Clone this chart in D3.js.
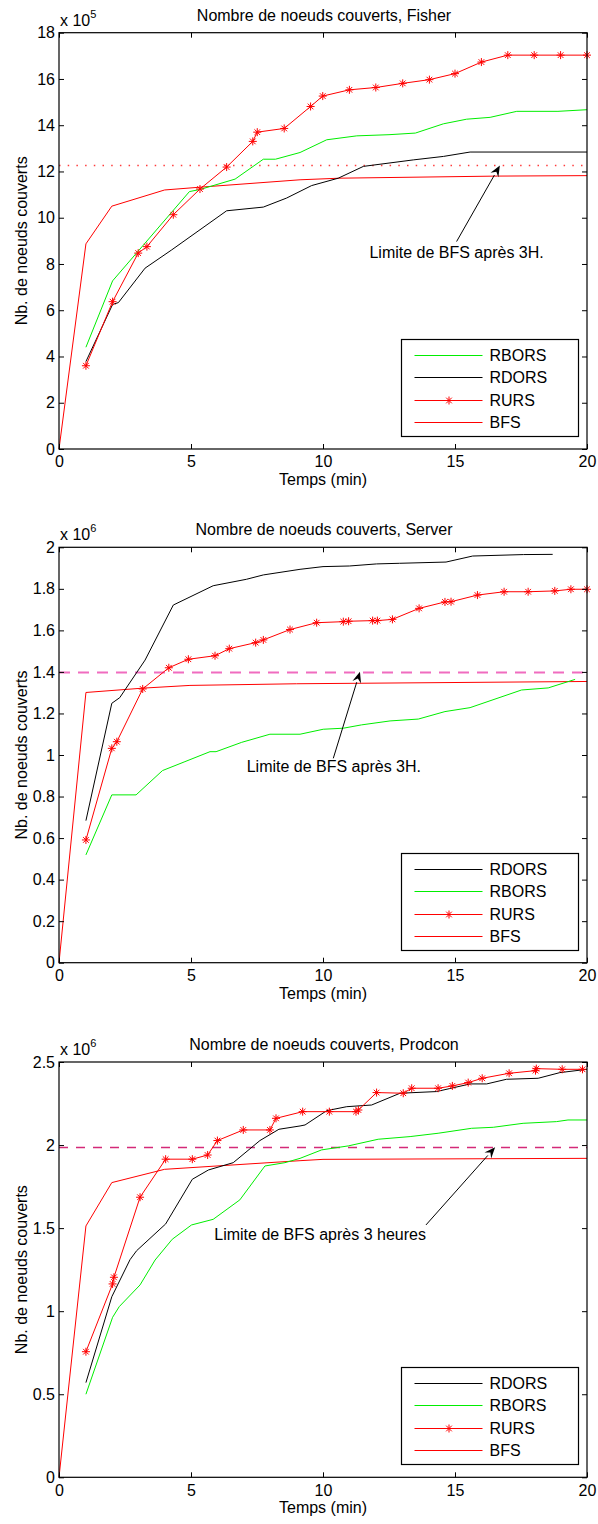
<!DOCTYPE html>
<html><head><meta charset="utf-8">
<script src="https://cdn.jsdelivr.net/npm/d3@7"></script>
<style>
body{margin:0;background:#fff}
svg{display:block}
text{font-family:"Liberation Sans",Arial,Helvetica,sans-serif;fill:#000}
</style>
</head><body>
<svg id="chart" width="598" height="1524"></svg>
<script>
// ---------- shared ----------
const xTicks = [0, 5, 10, 15, 20];
const xTickLabels = ["0", "5", "10", "15", "20"];
const xLabel = "Temps (min)";
const yLabel = "Nb. de noeuds couverts";

// ---------- Panel 1 : Fisher (x 10^5) ----------
const fisherTitle = "Nombre de noeuds couverts, Fisher";
const fisherExp = "5";
const fisherYTicks = [0, 2, 4, 6, 8, 10, 12, 14, 16, 18];
const fisherYTickLabels = ["0","2","4","6","8","10","12","14","16","18"];
const fisherLegend = ["RBORS", "RDORS", "RURS", "BFS"];
const fisherLimit = 12.26;
const fisherBFS = [[0,0],[1.02,8.87],[2,10.5],[4,11.2],[5.34,11.32],[9.13,11.64],[10.64,11.71],[16.6,11.8],[20,11.82]];
const fisherRURS = [[1.02,3.6],[2.03,6.37],[3.0,8.47],[3.33,8.75],[4.33,10.13],[5.34,11.24],[6.35,12.19],[7.34,13.3],[7.51,13.7],[8.53,13.86],[9.53,14.81],[9.99,15.26],[11.0,15.53],[12.0,15.63],[13.02,15.81],[14.03,15.97],[15.0,16.23],[16.0,16.73],[17.0,17.03],[18.0,17.03],[19.0,17.03],[20.0,17.03]];
const fisherRBORS = [[1.02,4.4],[2.03,7.27],[4.94,11.13],[5.34,11.22],[6.67,11.67],[7.74,12.53],[8.2,12.53],[9.13,12.82],[10.14,13.37],[11.28,13.54],[12.5,13.59],[13.5,13.66],[14.56,14.06],[15.44,14.26],[16.33,14.34],[17.34,14.6],[18.9,14.6],[20,14.67]];
const fisherRDORS = [[1.02,3.78],[2.03,6.25],[2.25,6.33],[3.26,7.82],[4.27,8.61],[6.35,10.3],[7.74,10.46],[8.62,10.85],[9.57,11.39],[10.58,11.71],[11.53,12.22],[13.42,12.5],[14.56,12.65],[15.57,12.84],[20,12.84]];
const fisherNote = "Limite de BFS après 3H.";
const fisherArrow = [[15.06,8.97],[16.7,12.26]];
const fisherNotePos = [15.06, 8.26];

// ---------- Panel 2 : Server (x 10^6) ----------
const serverTitle = "Nombre de noeuds couverts, Server";
const serverExp = "6";
const serverYTicks = [0,0.2,0.4,0.6,0.8,1,1.2,1.4,1.6,1.8,2];
const serverYTickLabels = ["0","0.2","0.4","0.6","0.8","1","1.2","1.4","1.6","1.8","2"];
const serverLegend = ["RDORS", "RBORS", "RURS", "BFS"];
const serverLimit = 1.401;
const serverBFS = [[0,0],[1.02,1.301],[3.19,1.322],[4.96,1.335],[9,1.343],[20,1.354]];
const serverRDORS = [[1.02,0.684],[2.0,1.249],[2.3,1.276],[3.26,1.457],[4.33,1.722],[5.84,1.815],[7.1,1.846],[7.74,1.867],[9.13,1.894],[10.0,1.907],[11.0,1.91],[12.03,1.92],[12.9,1.923],[14.66,1.929],[15.67,1.958],[17.6,1.965],[18.7,1.966]];
const serverRBORS = [[1.02,0.519],[2.0,0.808],[2.92,0.808],[3.92,0.925],[4.77,0.968],[5.72,1.016],[5.95,1.016],[6.92,1.061],[7.99,1.1],[9.13,1.1],[10.01,1.124],[10.77,1.129],[11.46,1.145],[12.54,1.164],[13.61,1.173],[14.62,1.209],[15.57,1.228],[17.52,1.313],[18.53,1.323],[19.55,1.364]];
const serverRURS = [[1.02,0.591],[2.0,1.032],[2.19,1.064],[3.17,1.318],[4.16,1.42],[4.9,1.461],[5.91,1.478],[6.45,1.512],[7.45,1.541],[7.74,1.554],[8.75,1.604],[9.76,1.637],[10.77,1.642],[10.97,1.644],[11.88,1.647],[12.06,1.647],[12.63,1.653],[13.64,1.706],[14.62,1.737],[14.85,1.738],[15.85,1.77],[16.86,1.786],[17.77,1.786],[18.78,1.79],[19.39,1.798],[20,1.798]];
const serverNote = "Limite de BFS après 3H.";
const serverArrow = [[10.39,0.984],[11.4,1.401]];
const serverNotePos = [10.41, 0.918];

// ---------- Panel 3 : Prodcon (x 10^6) ----------
const prodconTitle = "Nombre de noeuds couverts, Prodcon";
const prodconExp = "6";
const prodconYTicks = [0,0.5,1,1.5,2,2.5];
const prodconYTickLabels = ["0","0.5","1","1.5","2","2.5"];
const prodconLegend = ["RDORS", "RBORS", "RURS", "BFS"];
const prodconLimit = 1.987;
const prodconBFS = [[0,0],[1.02,1.513],[2.0,1.774],[4.0,1.854],[9.13,1.906],[10,1.914],[20,1.92]];
const prodconRURS = [[1.02,0.756],[2.03,1.164],[2.08,1.204],[3.07,1.686],[4.04,1.915],[5.05,1.915],[5.63,1.94],[6.0,2.027],[6.98,2.091],[7.99,2.091],[8.22,2.161],[9.23,2.201],[10.24,2.201],[11.25,2.201],[11.34,2.211],[12.03,2.316],[13.04,2.312],[13.36,2.342],[14.36,2.342],[14.9,2.356],[15.5,2.376],[16.03,2.402],[17.05,2.432],[18.05,2.448],[18.08,2.46],[19.06,2.456],[19.83,2.456]];
const prodconRDORS = [[1.02,0.57],[2.0,1.087],[2.69,1.31],[2.94,1.364],[4.04,1.525],[5.05,1.794],[5.66,1.85],[6.6,1.894],[7.61,2.027],[8.33,2.095],[9.13,2.115],[9.32,2.121],[10.14,2.207],[10.9,2.231],[11.84,2.241],[12.92,2.312],[14.3,2.322],[15.57,2.368],[16.2,2.368],[16.95,2.396],[18.15,2.402],[18.97,2.436],[20,2.456]];
const prodconRBORS = [[1.02,0.5],[2.03,0.963],[2.28,1.027],[3.07,1.158],[3.64,1.308],[4.29,1.433],[5.02,1.519],[5.84,1.553],[6.85,1.67],[7.8,1.874],[8.56,1.894],[9.13,1.92],[9.95,1.971],[10.96,1.995],[12.09,2.035],[13.3,2.051],[14.36,2.071],[15.63,2.101],[16.45,2.107],[17.58,2.131],[18.84,2.141],[19.28,2.151],[20,2.151]];
const prodconNote = "Limite de BFS après 3 heures";
const prodconArrow = [[13.9,1.519],[16.52,1.987]];
const prodconNotePos = [9.89, 1.43];

// ---------- drawing ----------
const svg = d3.select("#chart");
const COLORS = {RBORS:"#00ee00", RDORS:"#000000", RURS:"#ff0000", BFS:"#ff0000"};

function starPath(r){
  const a = r*Math.SQRT1_2;
  return `M${-r},0L${r},0M0,${-r}L0,${r}M${-a},${-a}L${a},${a}M${-a},${a}L${a},${-a}`;
}

function drawPanel(cfg){
  const g = svg.append("g");
  const x = d3.scaleLinear().domain([0,20]).range([59,587]);
  const y = d3.scaleLinear().domain([0,cfg.ymax]).range([cfg.bottom,cfg.top]);
  const X0 = x(0), X1 = x(20), Y0 = y(0), Y1 = y(cfg.ymax);

  // title
  g.append("text").attr("x",(X0+X1)/2+1).attr("y",Y1-12).attr("text-anchor","middle")
    .attr("font-size",16).text(cfg.title);
  // exponent
  const ex = g.append("text").attr("x",60).attr("y",Y1-7).attr("font-size",16);
  ex.append("tspan").text("x 10");
  ex.append("tspan").attr("font-size",11).attr("dy",-8).text(cfg.exp);

  const lineGen = d3.line().x(d=>x(d[0])).y(d=>y(d[1]));

  // limit line
  const ly0 = Math.round(y(cfg.limit)) + 0.5;
  g.append("line").attr("x1",X0).attr("x2",X1).attr("y1",ly0).attr("y2",ly0)
    .attr("stroke",cfg.limitColor).attr("stroke-width",cfg.limitWidth)
    .attr("stroke-dasharray",cfg.limitDash);

  // series
  cfg.series.forEach(s=>{
    g.append("path").datum(s.data).attr("d",lineGen).attr("fill","none")
      .attr("stroke",COLORS[s.name]).attr("stroke-width",1).attr("stroke-linejoin","round");
    if(s.name==="RURS"){
      g.selectAll(null).data(s.data).enter().append("path")
        .attr("transform",d=>`translate(${x(d[0])},${y(d[1])})`)
        .attr("d",starPath(4)).attr("stroke","#ff0000").attr("stroke-width",1).attr("fill","none");
    }
  });

  // axes (inner ticks, box)
  const ax = g.append("g").attr("class","axes");
  ax.append("g").attr("transform",`translate(0,${Y0})`)
    .call(d3.axisBottom(x).tickValues(xTicks).tickFormat((d,i)=>xTickLabels[i]).tickSize(-5).tickSizeOuter(0).tickPadding(7));
  ax.append("g").attr("transform",`translate(0,${Y1})`)
    .call(d3.axisTop(x).tickValues(xTicks).tickFormat("").tickSize(-5).tickSizeOuter(0));
  ax.append("g").attr("transform",`translate(${X0},0)`)
    .call(d3.axisLeft(y).tickValues(cfg.yTicks).tickFormat((d,i)=>cfg.yTickLabels[i]).tickSize(-5).tickSizeOuter(0).tickPadding(4));
  ax.append("g").attr("transform",`translate(${X1},0)`)
    .call(d3.axisRight(y).tickValues(cfg.yTicks).tickFormat("").tickSize(-5).tickSizeOuter(0));
  ax.selectAll("text").attr("font-size",16).attr("font-family",null).style("fill","#000");
  ax.selectAll("path.domain").remove();
  ax.selectAll(".tick line").attr("stroke","#000");
  g.append("rect").attr("x",X0).attr("y",Y1).attr("width",X1-X0).attr("height",Y0-Y1)
    .attr("fill","none").attr("stroke","#000").attr("stroke-width",1.2);

  // axis labels
  g.append("text").attr("x",(X0+X1)/2).attr("y",Y0+36).attr("text-anchor","middle")
    .attr("font-size",16).text(xLabel);
  g.append("text").attr("transform",`translate(27,${(Y0+Y1)/2}) rotate(-90)`)
    .attr("text-anchor","middle").attr("font-size",16).text(yLabel);

  // annotation arrow
  const [t0,t1] = cfg.arrow;
  const ax0=x(t0[0]), ay0=y(t0[1]), ax1=x(t1[0]), ay1=y(t1[1]);
  const ang = Math.atan2(ay1-ay0, ax1-ax0);
  const L=11, W=4.5;
  const bx = ax1 - L*Math.cos(ang), by = ay1 - L*Math.sin(ang);
  g.append("line").attr("x1",ax0).attr("y1",ay0).attr("x2",bx).attr("y2",by)
    .attr("stroke","#000").attr("stroke-width",1);
  g.append("path").attr("d",`M${ax1},${ay1}L${bx+W*Math.sin(ang)},${by-W*Math.cos(ang)}L${bx+0.35*L*Math.cos(ang)},${by+0.35*L*Math.sin(ang)}L${bx-W*Math.sin(ang)},${by+W*Math.cos(ang)}Z`)
    .attr("fill","#000");
  g.append("text").attr("x",x(cfg.notePos[0])).attr("y",y(cfg.notePos[1])).attr("text-anchor","middle")
    .attr("font-size",16).text(cfg.note);

  // legend
  const lw=177, lh=97;
  const lx = Math.round(X1-9-lw)+0.5, ly = Math.round(Y0-13-lh)+0.5;
  const lg = g.append("g");
  lg.append("rect").attr("x",lx).attr("y",ly).attr("width",lw).attr("height",lh)
    .attr("fill","#fff").attr("stroke","#000").attr("stroke-width",1.2);
  cfg.legend.forEach((name,i)=>{
    const yy = Math.round(ly + 15 + i*22.6) + 0.5;
    lg.append("line").attr("x1",lx+13).attr("x2",lx+81).attr("y1",yy).attr("y2",yy)
      .attr("stroke",COLORS[name]).attr("stroke-width",1);
    if(name==="RURS"){
      lg.append("path").attr("transform",`translate(${lx+47.5},${yy})`).attr("d",starPath(4))
        .attr("stroke","#ff0000").attr("fill","none");
    }
    lg.append("text").attr("x",lx+88).attr("y",yy).attr("dy","0.36em").attr("font-size",16).text(name);
  });
}

drawPanel({
  title:fisherTitle, exp:fisherExp, ymax:18, top:32.7, bottom:449,
  yTicks:fisherYTicks, yTickLabels:fisherYTickLabels,
  limit:fisherLimit, limitColor:"#ff3c3c", limitWidth:1.5, limitDash:"1.5,7.2",
  series:[{name:"BFS",data:fisherBFS},{name:"RDORS",data:fisherRDORS},{name:"RBORS",data:fisherRBORS},{name:"RURS",data:fisherRURS}],
  arrow:fisherArrow, note:fisherNote, notePos:fisherNotePos, legend:fisherLegend
});
drawPanel({
  title:serverTitle, exp:serverExp, ymax:2, top:547.3, bottom:962.7,
  yTicks:serverYTicks, yTickLabels:serverYTickLabels,
  limit:serverLimit, limitColor:"#f06cbf", limitWidth:2, limitDash:"11,8",
  series:[{name:"BFS",data:serverBFS},{name:"RBORS",data:serverRBORS},{name:"RDORS",data:serverRDORS},{name:"RURS",data:serverRURS}],
  arrow:serverArrow, note:serverNote, notePos:serverNotePos, legend:serverLegend
});
drawPanel({
  title:prodconTitle, exp:prodconExp, ymax:2.5, top:1062, bottom:1477.3,
  yTicks:prodconYTicks, yTickLabels:prodconYTickLabels,
  limit:prodconLimit, limitColor:"#d42a78", limitWidth:1.3, limitDash:"9,8",
  series:[{name:"BFS",data:prodconBFS},{name:"RBORS",data:prodconRBORS},{name:"RDORS",data:prodconRDORS},{name:"RURS",data:prodconRURS}],
  arrow:prodconArrow, note:prodconNote, notePos:prodconNotePos, legend:prodconLegend
});
</script>
</body></html>
